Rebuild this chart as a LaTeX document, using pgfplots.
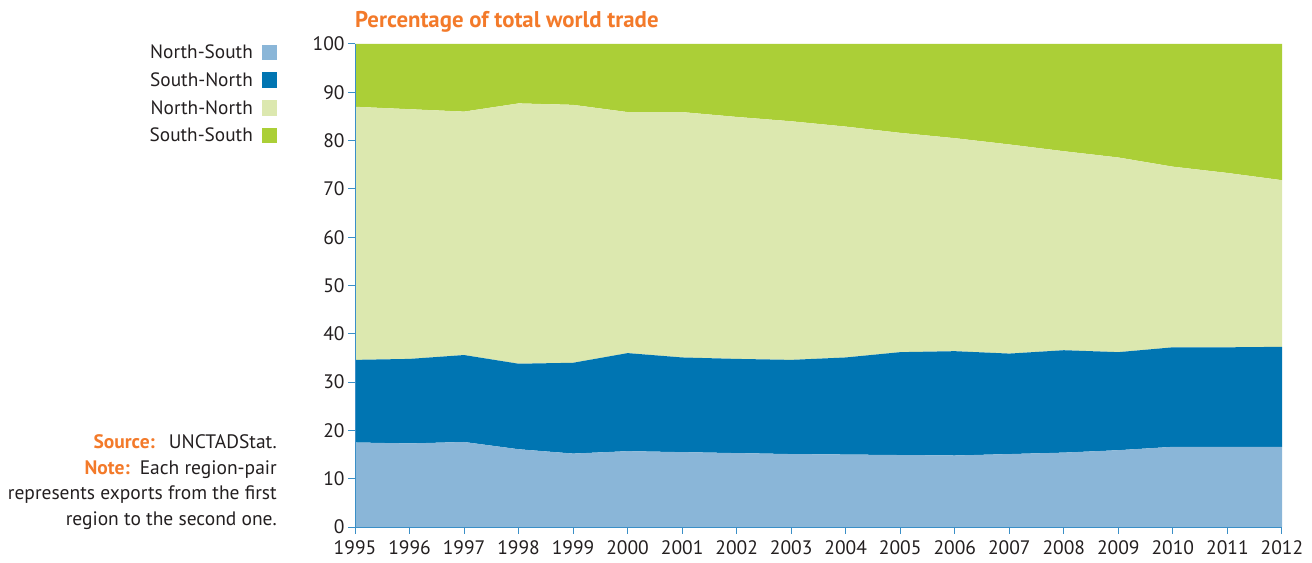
\documentclass[border=0pt]{standalone}
\usepackage{pgfplots}
\pgfplotsset{compat=1.18}
\usepackage{pgfplotstable}
\usepackage{fontspec}
\setmainfont{PT Sans}
\definecolor{ns}{HTML}{8AB6D8}
\definecolor{sn}{HTML}{0075B2}
\definecolor{nn}{HTML}{DCE8AF}
\definecolor{ss}{HTML}{ABCF37}
\definecolor{ax}{HTML}{3A8FC7}
\definecolor{orng}{HTML}{F37A2A}
\definecolor{txt}{HTML}{231F20}

\pgfplotstableread{
year ns sn nn ss
1995 17.5 17.1 52.4 13.0
1996 17.3 17.5 51.7 13.5
1997 17.6 18.0 50.4 14.0
1998 16.1 17.7 53.9 12.3
1999 15.2 18.8 53.4 12.6
2000 15.7 20.3 49.9 14.1
2001 15.5 19.6 50.8 14.1
2002 15.3 19.5 50.1 15.1
2003 15.1 19.5 49.4 16.0
2004 15.0 20.1 47.8 17.1
2005 14.9 21.3 45.4 18.4
2006 14.8 21.6 44.1 19.5
2007 15.1 20.8 43.3 20.8
2008 15.4 21.2 41.2 22.2
2009 15.9 20.3 40.3 23.5
2010 16.6 20.6 37.4 25.4
2011 16.6 20.6 36.1 26.7
2012 16.6 20.7 34.5 28.2
}\data

\begin{document}
\begin{tikzpicture}[font=\fontsize{19.5bp}{23bp}\selectfont]
\path[use as bounding box] (0,0) rectangle (1312bp,563bp);
\begin{axis}[
  at={(355bp,36bp)}, anchor=south west,
  scale only axis, width=927bp, height=483bp,
  xmin=1995, xmax=2012, ymin=0, ymax=100,
  stack plots=y,
  xtick={1995,...,2012}, ytick={0,10,...,100},
  /pgf/number format/assume math mode=true,
  x tick label style={/pgf/number format/1000 sep={}, text=txt, yshift=-3bp},
  y tick label style={text=txt},
  axis x line*=bottom, axis y line*=left,
  axis line style={ax, -, line width=1bp},
  tick style={ax, line width=1bp},
  major tick length=7bp, tick align=outside,
  axis on top,
  legend style={at={(-0.0841,1)}, anchor=north east, draw=none, fill=none,
    legend plot pos=right, legend cell align=right,
    row sep=8.7bp, column sep=9bp, inner sep=0pt,
    font=\fontsize{19.3bp}{23bp}\selectfont,
    nodes={inner sep=0pt, text height=14.5bp, text depth=4.5bp, text=txt}},
  legend image code/.code={\fill[#1] (0bp,-6.5bp) rectangle (15bp,9bp);},
]
\addplot[fill=ns, draw=none] table[x=year, y=ns] {\data} \closedcycle;
\addlegendentry{North-South}
\addplot[fill=sn, draw=none] table[x=year, y=sn] {\data} \closedcycle;
\addlegendentry{South-North}
\addplot[fill=nn, draw=none] table[x=year, y=nn] {\data} \closedcycle;
\addlegendentry{North-North}
\addplot[fill=ss, draw=none] table[x=year, y=ss] {\data} \closedcycle;
\addlegendentry{South-South}
\end{axis}
\node[anchor=base west, text=orng, inner sep=0pt, font=\bfseries\fontsize{22.8bp}{26bp}\selectfont] at (355bp,535bp) {Percentage of total world trade};
\node[anchor=base east, text=txt, inner sep=0pt] at (277bp,114bp) {\textcolor{orng}{\bfseries Source:}\hspace{14bp}UNCTADStat.};
\node[anchor=base east, text=txt, inner sep=0pt] at (277bp,88.5bp) {\textcolor{orng}{\bfseries Note:}\hspace{10bp}Each region-pair};
\node[anchor=base east, text=txt, inner sep=0pt] at (277bp,63bp) {represents exports from the first};
\node[anchor=base east, text=txt, inner sep=0pt] at (277bp,37.5bp) {region to the second one.};
\end{tikzpicture}
\end{document}
